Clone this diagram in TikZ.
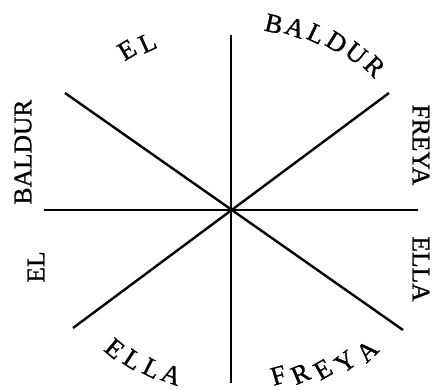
\documentclass[tikz,border=0pt]{standalone}
\usepackage{fontspec}
\setmainfont{Liberation Serif}
\newfontfamily\wordfont[FakeBold=1]{Liberation Serif}
\usepackage{tikz}

\begin{document}
\begin{tikzpicture}[x=1pt, y=1pt]
    \tikzstyle{spoke} = [draw, line width=2.4pt]
    \tikzstyle{word} = [inner sep=0pt, font=\wordfont\fontsize{25.5}{25.5}\selectfont]
    \tikzstyle{arcword} = [word, font=\wordfont\fontsize{26.5}{26.5}\selectfont]

    \useasboundingbox (-231,-180) rectangle (210,210);

    % ends of the spokes
    \coordinate (n) at (0,175);
    \coordinate (s) at (0,-173);
    \coordinate (w) at (-187,0);
    \coordinate (e) at (187,0);
    \coordinate (nw) at (-166,117);
    \coordinate (se) at (172,-120);
    \coordinate (ne) at (158,117);
    \coordinate (sw) at (-158,-118);

    \path [spoke] (n) -- (s);
    \path [spoke] (w) -- (e);
    \path [spoke] (nw) -- (se);
    \path [spoke] (ne) -- (sw);

    % words round the top
    \foreach \ch [count=\i from 0] in {E,L}
        \node [arcword, rotate={123-6.5*\i-92}] (topel\i) at ({123-6.5*\i}:{191-4*\i}) {\ch};
    \foreach \ch [count=\i from 0] in {B,A,L,D,U,R}
        \node [arcword, rotate={77-6.4*\i-90}] (topbaldur\i) at ({77-6.4*\i}:{191+2.4*\i}) {\ch};

    % words at the sides
    \node [word, rotate=90] (leftbaldur) at (-208,58) {BALDUR};
    \node [word, rotate=90] (leftel) at (-195,-57) {EL};
    \node [word, rotate=-90] (rightfreya) at (190,65) {FREYA};
    \node [word, rotate=-90] (rightella) at (190,-59) {ELLA};

    % words round the bottom
    \foreach \ch [count=\i from 0] in {E,L,L,A}
        \node [arcword, rotate={230+6.7*\i+90}] (botella\i) at ({230+6.7*\i}:{181-2*\i}) {\ch};
    \foreach \ch [count=\i from 0] in {F,R,E,Y,A}
        \node [arcword, rotate={286+7*\i+90}] (botfreya\i) at ({286+7*\i}:{172+6*\i}) {\ch};
\end{tikzpicture}
\end{document}
